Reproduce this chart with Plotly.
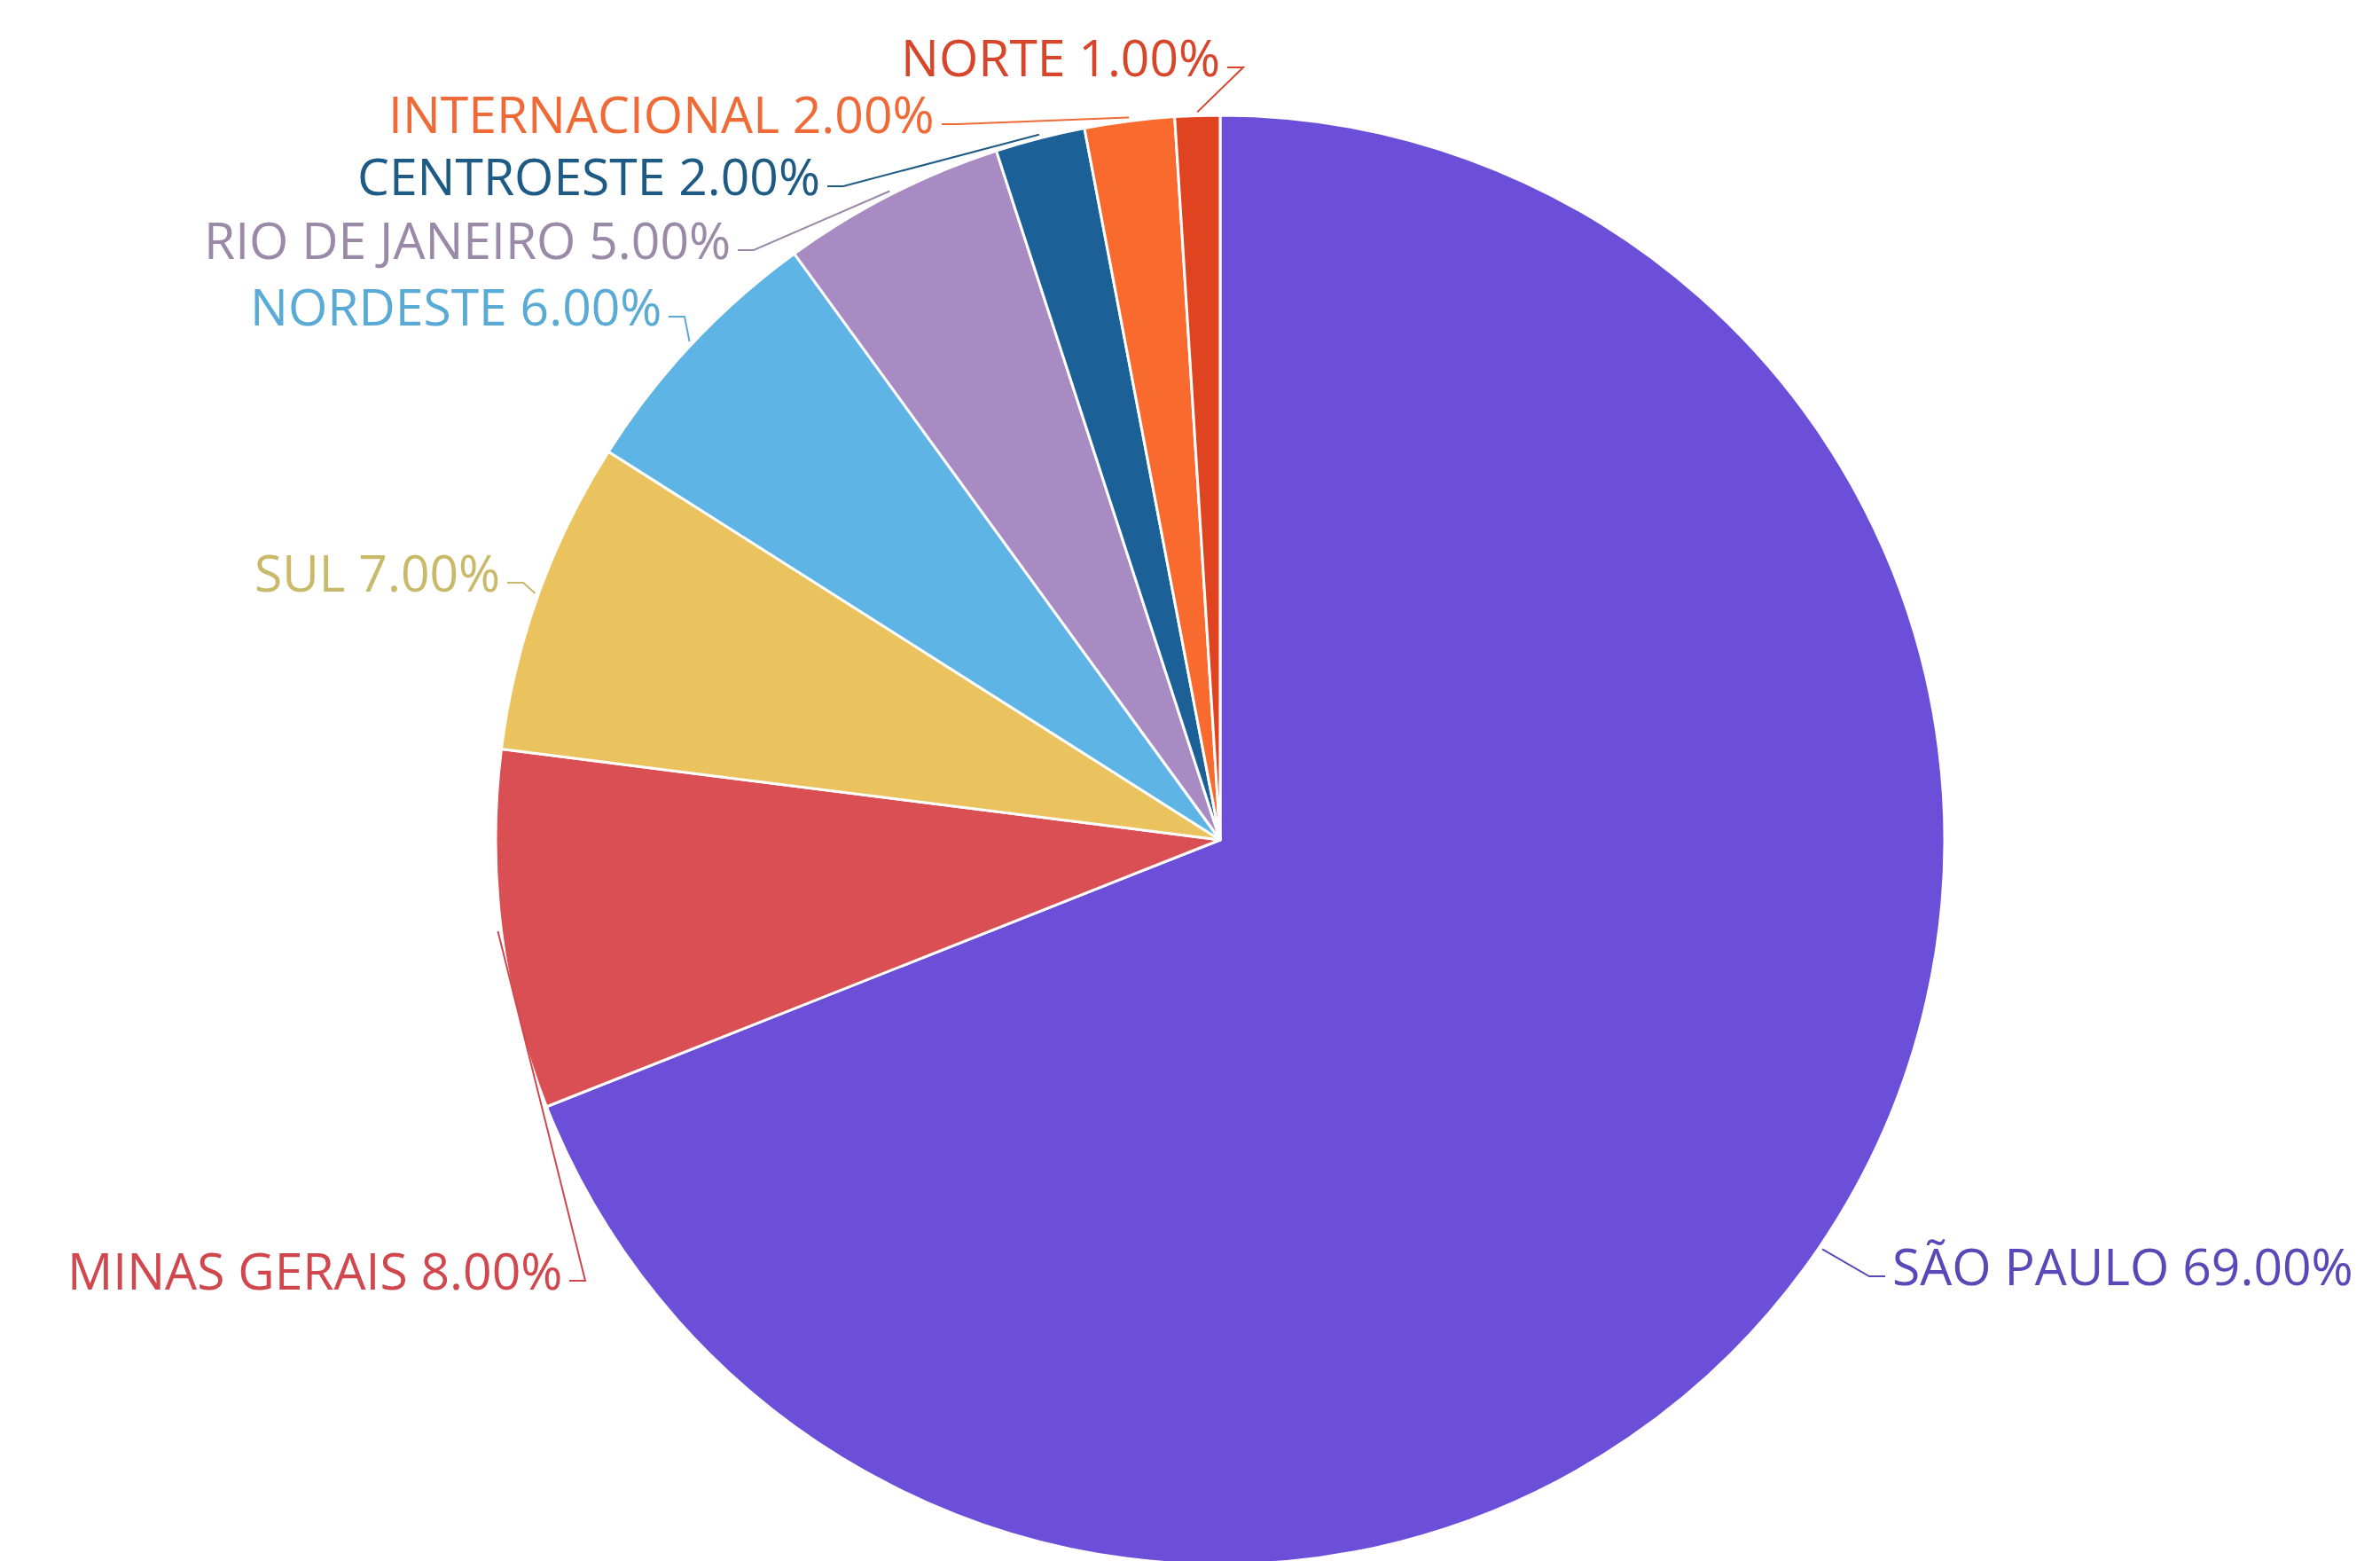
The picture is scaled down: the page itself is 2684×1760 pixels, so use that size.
import math
import plotly.graph_objects as go

# ---- data ----
regions = ["SÃO PAULO", "MINAS GERAIS", "SUL", "NORDESTE", "RIO DE JANEIRO",
           "CENTROESTE", "INTERNACIONAL", "NORTE"]
shares = [69, 8, 7, 6, 5, 2, 2, 1]
colors = ["#6B4FD8", "#D94F54", "#EBC35E", "#5EB4E4", "#A98BC4",
          "#1B6198", "#F96A2F", "#E0431F"]
text_colors = ["#5B48B8", "#D0474E", "#C9B96A", "#5AAAD6", "#9A8AA8",
               "#1D5A84", "#EF6A36", "#D7452A"]

W, H = 2684, 1760
CX, CY, R = 1368, 939, 817  # pie centre / radius in pixels

# label anchor positions (pixels) and side
label_pos = {
    "SÃO PAULO": (2124, 1419, "left"),
    "MINAS GERAIS": (628, 1424, "right"),
    "SUL": (558, 637, "right"),
    "NORDESTE": (740, 337, "right"),
    "RIO DE JANEIRO": (818, 262, "right"),
    "CENTROESTE": (919, 190, "right"),
    "INTERNACIONAL": (1048, 120, "right"),
    "NORTE": (1370, 56, "right"),
}

fig = go.Figure(go.Pie(
    labels=regions, values=shares, sort=False, direction="clockwise", rotation=0,
    marker=dict(colors=colors, line=dict(color="white", width=3)),
    textinfo="none", hoverinfo="label+percent", showlegend=False,
    domain=dict(x=[(CX - R) / W, (CX + R) / W], y=[1 - (CY + R) / H, 1 - (CY - R) / H]),
))

total = sum(shares)
cum = 0
annotations, shapes = [], []
for name, v, tc in zip(regions, shares, text_colors):
    mid = (cum + v / 2) / total * 2 * math.pi
    cum += v
    hx = CX + (R + 4) * math.sin(mid)
    hy = CY - (R + 4) * math.cos(mid)
    tx, ty, side = label_pos[name]
    pct = v / total * 100
    annotations.append(dict(
        x=tx / W, y=1 - ty / H, xref="paper", yref="paper",
        text=f"{name} {pct:.2f}%", showarrow=False,
        xanchor="left" if side == "left" else "right", yanchor="middle",
        font=dict(family="'Open Sans', Lato, sans-serif", size=57, color=tc),
    ))
    sx = tx + (-6 if side == "left" else 6)
    sy = ty + 12
    ex = sx + (-18 if side == "left" else 18)
    path = f"M {sx/W} {1-sy/H} L {ex/W} {1-sy/H} L {hx/W} {1-hy/H}"
    shapes.append(dict(type="path", path=path, xref="paper", yref="paper",
                       line=dict(color=tc, width=2)))

fig.update_layout(
    width=W, height=H, margin=dict(l=0, r=0, t=0, b=0),
    paper_bgcolor="white", plot_bgcolor="white",
    annotations=annotations, shapes=shapes,
)
fig.write_html("out.html")
